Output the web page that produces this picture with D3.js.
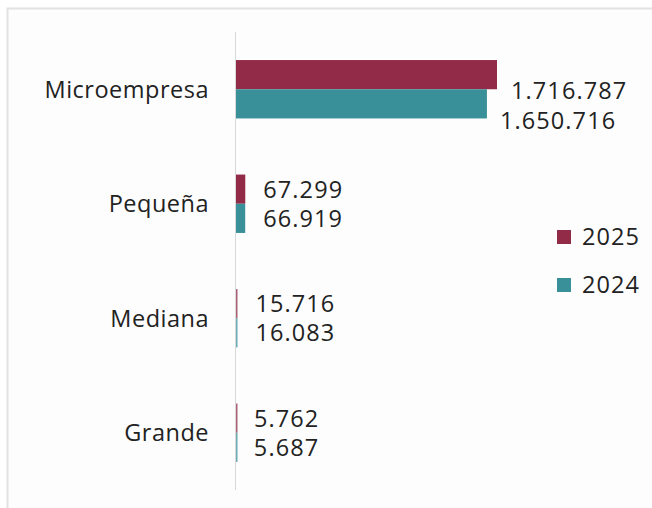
<!DOCTYPE html>
<html><head><meta charset="utf-8">
<script src="https://cdn.jsdelivr.net/npm/d3@7"></script>
<style>body{margin:0;background:#fff}svg{display:block}text{font-family:"Open Sans",Lato,sans-serif}</style>
</head><body><svg id="c" width="652" height="508"></svg>
<script>
const categories = ["Microempresa","Pequeña","Mediana","Grande"];
const seriesNames = ["2025","2024"];
const values2025 = [1716787, 67299, 15716, 5762];
const values2024 = [1650716, 66919, 16083, 5687];
const colors = ["#922B47","#3A9099"];

const svg = d3.select("#c");
svg.append("rect").attr("x",7.5).attr("y",8.5).attr("width",700).attr("height",600)
  .attr("fill","#fdfdfd").attr("stroke","#e2e2e2").attr("stroke-width",2);

const x0 = 235;
const x = d3.scaleLinear().domain([0,1716787]).range([x0,497]);
const y = d3.scaleBand().domain(categories).range([32,490]).paddingInner(0.49).paddingOuter(0.245);
const ySub = d3.scaleBand().domain(seriesNames).range([0,y.bandwidth()]);
const fmt = v => d3.format(",")(v).replace(/,/g,".");

svg.append("line").attr("x1",x0+0.5).attr("x2",x0+0.5).attr("y1",32).attr("y2",490)
  .attr("stroke","#d9d9d9").attr("stroke-width",1);

const series = [values2025, values2024];
categories.forEach((c,i)=>{
  series.forEach((vals,s)=>{
    const v = vals[i];
    const yy = y(c)+ySub(seriesNames[s]);
    svg.append("rect").attr("x",x0+1).attr("y",yy).attr("width",Math.max(1.5,x(v)-x0-1)).attr("height",ySub.bandwidth())
      .attr("fill",colors[s]).attr("opacity", x(v)-x0<3 ? 0.75 : 1);
    const big = i===0;
    const ly = yy + ySub.bandwidth()/2 + (big ? 16 + s : 0);
    const lx = big ? x(v)+14 - s : (i===1 ? x(v)+18 : x(v)+18);
    svg.append("text").attr("x", lx)
      .attr("y",ly).attr("dy","0.36em").attr("font-size",23.5).attr("letter-spacing",1.1).attr("fill","#222").text(fmt(v));
  });
  svg.append("text").attr("x",209).attr("y",y(c)+y.bandwidth()/2).attr("dy","0.36em")
    .attr("text-anchor","end").attr("font-size",23.5).attr("letter-spacing",0.5).attr("fill","#222").text(c);
});

seriesNames.forEach((n,s)=>{
  const ly = 237 + s*48;
  svg.append("rect").attr("x",557).attr("y",ly-7).attr("width",14).attr("height",14).attr("fill",colors[s]);
  svg.append("text").attr("x",582).attr("y",ly).attr("dy","0.36em").attr("font-size",23.5).attr("letter-spacing",1.1).attr("fill","#222").text(n);
});
</script></body></html>
